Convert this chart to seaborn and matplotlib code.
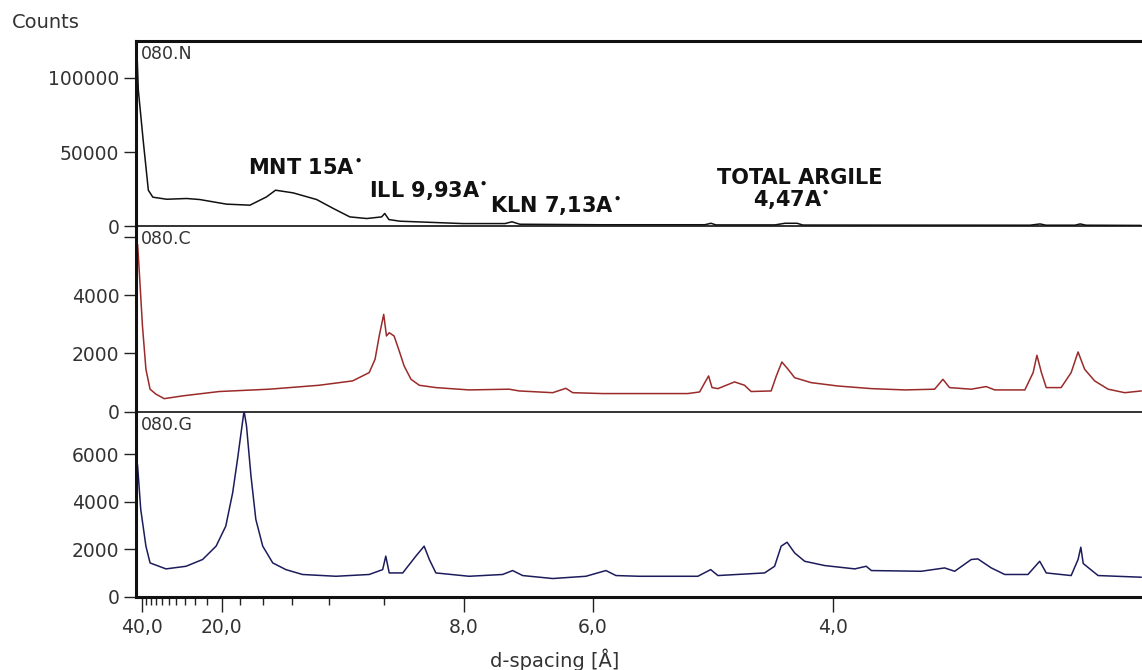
import numpy as np
import pandas as pd
import seaborn as sns
import matplotlib.pyplot as plt

# scan positions (2-theta, deg) and counts
n_x = [2.04, 2.07, 2.10, 2.24, 2.39, 2.52, 2.92, 3.50, 3.88, 4.65, 5.33, 5.81, 6.07, 6.58,
       7.26, 7.74, 8.22, 8.71, 9.14, 9.23, 9.35, 9.67, 11.49, 12.71, 12.91, 13.14, 15.46,
       18.49, 18.67, 18.81, 20.52, 20.81, 21.16, 21.33, 27.90, 28.19, 28.36, 29.20, 29.35,
       29.52, 31.11]
n_y = [113000, 111500, 91900, 58100, 24300, 19600, 18200, 18700, 18000, 14900, 14200, 19800,
       24300, 22500, 18000, 12000, 6300, 5200, 6300, 8600, 4500, 3400, 1800, 1800, 3000, 1350,
       1000, 1000, 2000, 900, 900, 2000, 2000, 800, 700, 1550, 700, 700, 1550, 700, 550]

c_x = [2.04, 2.08, 2.13, 2.22, 2.32, 2.44, 2.61, 2.85, 3.38, 4.44, 5.89, 7.33, 8.30, 8.78,
       8.95, 9.07, 9.20, 9.28, 9.36, 9.50, 9.65, 9.79, 9.99, 10.23, 10.71, 11.67, 12.83,
       13.12, 14.09, 14.47, 14.67, 15.53, 16.56, 18.00, 18.34, 18.49, 18.60, 18.70, 18.87,
       19.35, 19.64, 19.83, 20.41, 20.56, 20.72, 20.90, 21.09, 21.57, 22.34, 23.31, 24.27,
       25.14, 25.38, 25.57, 26.20, 26.63, 26.88, 27.75, 27.99, 28.10, 28.23, 28.37, 28.80,
       29.09, 29.29, 29.48, 29.77, 30.16, 30.64, 31.12]
c_y = [5800, 5740, 4770, 2940, 1455, 770, 600, 445, 540, 690, 770, 905, 1055, 1340, 1800,
       2600, 3340, 2600, 2710, 2600, 2080, 1570, 1110, 905, 825, 745, 770, 710, 650, 800,
       650, 620, 620, 620, 675, 995, 1225, 825, 790, 1020, 905, 690, 710, 1225, 1705, 1455,
       1165, 995, 880, 790, 745, 770, 1110, 825, 770, 860, 745, 745, 1340, 1935, 1340, 825,
       825, 1340, 2050, 1455, 1055, 770, 650, 710]

g_x = [2.04, 2.08, 2.17, 2.32, 2.44, 2.90, 3.48, 3.96, 4.35, 4.63, 4.83, 4.97, 5.10, 5.16,
       5.23, 5.36, 5.50, 5.70, 5.99, 6.37, 6.85, 7.82, 8.78, 9.17, 9.26, 9.36, 9.75, 10.13,
       10.37, 10.52, 10.71, 11.67, 12.64, 12.93, 13.22, 14.09, 15.05, 15.63, 15.92, 16.59,
       18.29, 18.66, 18.87, 20.22, 20.51, 20.70, 20.87, 21.09, 21.38, 21.96, 22.83, 23.16,
       23.31, 24.75, 25.43, 25.72, 26.20, 26.39, 26.78, 27.17, 27.84, 28.18, 28.37, 29.09,
       29.29, 29.37, 29.44, 29.63, 29.87, 31.12]
g_y = [5920, 5500, 3680, 2135, 1430, 1180, 1290, 1575, 2135, 2975, 4380, 5785, 7190, 7820,
       7190, 5080, 3260, 2135, 1430, 1150, 945, 870, 945, 1150, 1715, 1010, 1010, 1715, 2135,
       1575, 1010, 870, 945, 1110, 900, 775, 870, 1110, 900, 870, 870, 1150, 900, 1010, 1290,
       2135, 2300, 1850, 1500, 1320, 1180, 1290, 1110, 1080, 1220, 1080, 1575, 1600, 1220,
       945, 945, 1500, 1010, 900, 1575, 2090, 1405, 1180, 900, 830]

sample_names = ['080.N', '080.C', '080.G']

# d-spacing ticks (placed where they sit on the 2-theta axis)
d_tick_pos = [2.204, 4.518, 11.52, 15.25, 22.20]
d_tick_lbl = ['40,0', '20,0', '8,0', '6,0', '4,0']
d_minor_pos = [2.325, 2.461, 2.612, 2.782, 2.976, 3.196, 3.451, 3.746, 4.099,
               5.039, 5.705, 6.544, 7.614, 9.206]

# peak labels on the top pattern
peak_lbl = ['MNT 15A$^{\\bullet}$', 'ILL 9,93A$^{\\bullet}$', 'KLN 7,13A$^{\\bullet}$',
            'TOTAL ARGILE', '4,47A$^{\\bullet}$']
peak_lbl_x = [5.27, 8.77, 12.27, 18.84, 19.89]
peak_lbl_y = [35100, 19800, 9660, 28200, 13500]

sns.set_style('ticks')
plt.rcParams['font.family'] = ['DejaVu Sans']
plt.rcParams['mathtext.fontset'] = 'dejavusans'

fig, axes = plt.subplots(3, 1, sharex=True, figsize=(11.42, 6.70), dpi=100)
fig.subplots_adjust(left=0.119, right=1.0, top=0.939, bottom=0.109, hspace=0)

scans = [(n_x, n_y), (c_x, c_y), (g_x, g_y)]
colors = ['#111111', '#9b2a2a', '#1c1c5c']
ylims = [125000, 6370, 7790]
yticks = [[0, 50000, 100000], [0, 2000, 4000, 6000], [0, 2000, 4000, 6000]]
ylabels = [['0', '50000', '100000'], ['0', '2000', '4000', ''], ['0', '2000', '4000', '6000']]

for i, ax in enumerate(axes):
    xs, ys = scans[i]
    df = pd.DataFrame({'two_theta': xs, 'counts': ys})
    ax.set_facecolor('none')
    sns.lineplot(data=df, x='two_theta', y='counts', ax=ax, color=colors[i],
                 linewidth=1.1, estimator=None)
    ax.set_xlim(2.03, 31.14)
    ax.set_ylim(0, ylims[i])
    ax.set_yticks(yticks[i])
    ax.set_yticklabels(ylabels[i])
    ax.set_xlabel('')
    ax.set_ylabel('')
    ax.tick_params(axis='y', direction='out', length=9, width=1, pad=3,
                   labelsize=13.5, labelcolor='#333333', color='#222222')
    ax.text(0.005, 0.93, sample_names[i], transform=ax.transAxes, ha='left', va='center',
            fontsize=12.5, color='#333333')
    for side in ['left', 'top', 'bottom']:
        ax.spines[side].set_color('#111111')
        ax.spines[side].set_linewidth(1.2)
    ax.spines['right'].set_visible(False)
    ax.spines['left'].set_linewidth(2.2)
    if i < 2:
        ax.tick_params(axis='x', which='both', bottom=False, labelbottom=False)
    if i > 0:
        ax.spines['top'].set_visible(False)

axes[0].spines['top'].set_linewidth(2.2)
axes[2].spines['bottom'].set_linewidth(2.2)

ax = axes[2]
ax.set_xticks(d_tick_pos)
ax.set_xticklabels(d_tick_lbl)
ax.set_xticks(d_minor_pos, minor=True)
ax.tick_params(axis='x', which='major', direction='out', length=11, width=1, pad=4,
               labelsize=13.5, labelcolor='#333333', color='#222222')
ax.tick_params(axis='x', which='minor', direction='out', length=6, width=1, color='#222222')

for lbl, x, y in zip(peak_lbl, peak_lbl_x, peak_lbl_y):
    axes[0].text(x, y, lbl, ha='left', va='baseline', fontsize=15, fontweight='bold',
                 color='#111111')

fig.text(0.010, 0.967, 'Counts', ha='left', va='center', fontsize=14, color='#333333')
fig.text(0.486, 0.015, 'd-spacing [Å]', ha='center', va='center', fontsize=14,
         color='#333333')

plt.savefig('out.png', dpi=100)
